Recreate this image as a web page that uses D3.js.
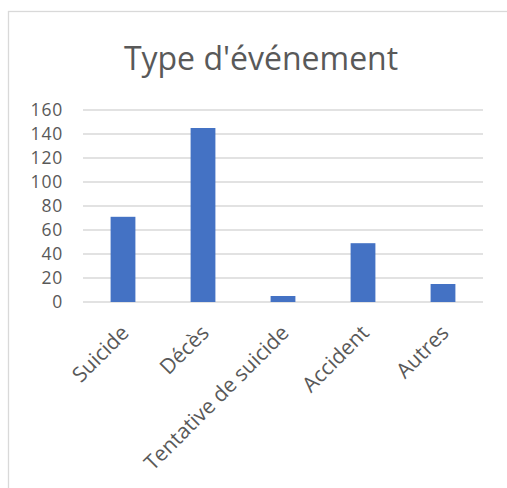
<!DOCTYPE html>
<html>
<head>
<meta charset="utf-8">
<script src="https://cdn.jsdelivr.net/npm/d3@7"></script>
<style>
    body { margin: 0; background: #fff; }
    text { font-family: "Open Sans", sans-serif; fill: #595959; }
</style>
</head>
<body>
<div id="chart"></div>
<script>
// chart data
const categories = ["Suicide", "Décès", "Tentative de suicide", "Accident", "Autres"];
const values = [71, 145, 5, 49, 15];
const yTicks = [0, 20, 40, 60, 80, 100, 120, 140, 160];
const title = "Type d'événement";

let width = 507, height = 488;
let margin = {top: 110, right: 24, bottom: 186, left: 83};

let svg = d3.select("#chart").append("svg")
    .attr("width", width)
    .attr("height", height);

// chart frame (right and bottom edges fall outside the picture)
svg.append("rect")
    .attr("x", 8.5).attr("y", 11.5)
    .attr("width", width + 20).attr("height", height + 20)
    .attr("fill", "none")
    .attr("stroke", "#d9d9d9")
    .attr("stroke-width", 1.3);

svg.append("text")
    .attr("x", 261).attr("y", 70)
    .attr("text-anchor", "middle")
    .style("font-size", "32px")
    .text(title);

let g = svg.append("g")
    .attr("transform", `translate(${margin.left}, ${margin.top})`);

let w = width - margin.left - margin.right;
let h = height - margin.top - margin.bottom;

let x = d3.scaleBand()
    .domain(categories)
    .range([0, w])
    .paddingInner(0.69)
    .paddingOuter(0.345);

let y = d3.scaleLinear()
    .domain([0, 160])
    .range([h, 0]);

// gridlines
g.selectAll(".grid").data(yTicks)
    .enter().append("line")
    .attr("class", "grid")
    .attr("x1", 0).attr("x2", w)
    .attr("y1", d => y(d)).attr("y2", d => y(d))
    .attr("stroke", "#d9d9d9")
    .attr("stroke-width", 1.3);

// y axis labels
let yAxis = g.append("g")
    .call(d3.axisLeft(y).tickValues(yTicks).tickSize(0).tickPadding(20));
yAxis.select(".domain").remove();
yAxis.selectAll("text")
    .style("font-size", "17.5px")
    .style("letter-spacing", "0.8px")
    .style("font-family", "'Open Sans', sans-serif")
    .attr("fill", "#595959");

// bars
g.selectAll(".bar").data(values)
    .enter().append("rect")
    .attr("class", "bar")
    .attr("x", (d, i) => x(categories[i]))
    .attr("y", d => y(d))
    .attr("width", x.bandwidth())
    .attr("height", d => h - y(d))
    .attr("fill", "#4472c4");

// x axis labels
let xAxis = g.append("g")
    .attr("transform", `translate(0, ${h})`)
    .call(d3.axisBottom(x).tickSize(0).tickPadding(0));
xAxis.select(".domain").remove();
xAxis.selectAll("text")
    .style("font-size", "21px")
    .style("font-family", "'Open Sans', sans-serif")
    .attr("fill", "#595959")
    .attr("text-anchor", "end")
    .attr("dy", "0.35em")
    .attr("transform", "translate(2, 27) rotate(-45)");
</script>
</body>
</html>
